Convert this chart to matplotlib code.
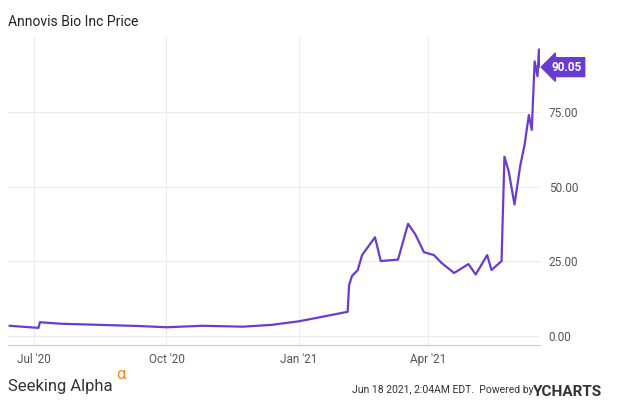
import matplotlib.pyplot as plt
import pandas as pd

plt.rcParams['font.family'] = ['Roboto', 'DejaVu Sans']

dates = ["2020-06-14", "2020-06-28", "2020-07-04", "2020-07-05", "2020-07-19", "2020-08-16",
         "2020-09-13", "2020-10-01", "2020-10-26", "2020-11-23", "2020-12-13", "2021-01-01",
         "2021-01-14", "2021-02-04", "2021-02-05", "2021-02-07", "2021-02-11", "2021-02-14",
         "2021-02-23", "2021-02-27", "2021-03-11", "2021-03-18", "2021-03-23", "2021-03-29",
         "2021-04-05", "2021-04-10", "2021-04-19", "2021-04-29", "2021-05-04", "2021-05-12",
         "2021-05-15", "2021-05-22", "2021-05-24", "2021-05-27", "2021-05-31", "2021-06-04",
         "2021-06-07", "2021-06-10", "2021-06-12", "2021-06-14", "2021-06-16", "2021-06-17",
         "2021-06-18"]
prices = [3.3, 2.8, 2.6, 4.5, 4.0, 3.6, 3.2, 2.8, 3.3, 3.0, 3.6, 4.8,
          6.0, 8.0, 17.0, 20.0, 22.0, 27.0, 33.0, 25.0, 25.5, 37.5, 34.0, 28.0,
          27.0, 24.5, 21.0, 24.0, 20.5, 27.0, 22.0, 25.0, 60.0, 55.0, 44.0, 57.0,
          64.0, 74.0, 69.0, 92.0, 87.0, 96.0, 90.05]
yticks = [0, 25, 50, 75]
xticks = ["2020-07-01", "2020-10-01", "2021-01-01", "2021-04-01"]
xlabels = ["Jul '20", "Oct '20", "Jan '21", "Apr '21"]

d = pd.to_datetime(dates)
purple = "#6a3bd1"

fig = plt.figure(figsize=(6.35, 4.03), dpi=100)
ax = fig.add_axes([0.013, 0.145, 0.838, 0.762])
ax.plot(d, prices, color=purple, lw=1.6)
ax.set_xlim(pd.Timestamp("2020-06-13"), pd.Timestamp("2021-06-18"))
ax.set_ylim(-3, 100)
ax.yaxis.tick_right()
ax.set_yticks(yticks)
ax.set_yticklabels([f"{v:.2f}" for v in yticks])
ax.set_xticks(pd.to_datetime(xticks))
ax.set_xticklabels(xlabels)
ax.tick_params(length=0, labelsize=8.5, colors="#555555", pad=6)
ax.grid(color="#ebebeb", lw=0.8)
for s in ["top", "right", "left"]:
    ax.spines[s].set_visible(False)
ax.spines["bottom"].set_color("#cccccc")

ax.annotate(f"{prices[-1]:.2f}", xy=(1.0, prices[-1]), xycoords=("axes fraction", "data"),
            xytext=(8, 0), textcoords="offset points", va="center", ha="left",
            color="white", fontsize=8.5, fontweight="bold",
            bbox=dict(boxstyle="larrow,pad=0.25", fc=purple, ec=purple))

fig.text(0.013, 0.03, "Seeking Alpha", fontsize=12, color="#333333")
fig.text(0.013, 0.935, "Annovis Bio Inc Price", fontsize=10, color="#222222")
fig.text(0.183, 0.06, "α", fontsize=12, color="#f08a24")
fig.text(0.555, 0.025, "Jun 18 2021, 2:04AM EDT.  Powered by", fontsize=7.5, color="#333333")
fig.text(0.84, 0.018, "YCHARTS", fontsize=11, color="#333333", fontweight="bold")
fig.savefig("out.png")
